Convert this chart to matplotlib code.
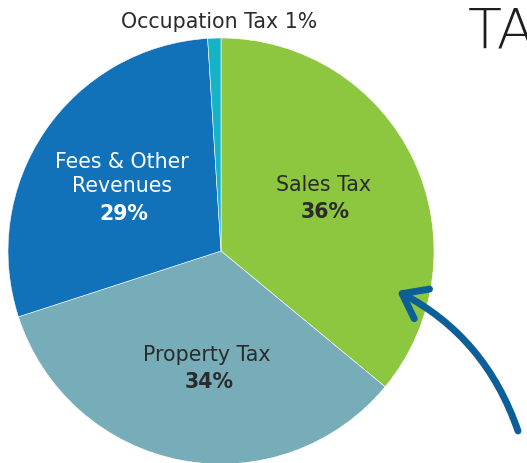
import matplotlib

matplotlib.use("Agg")
import matplotlib.pyplot as plt
from matplotlib.patches import FancyArrowPatch

plt.rcParams["font.family"] = ["DejaVu Sans"]

# revenue shares (%), clockwise from 12 o'clock
labels = ["Sales Tax", "Property Tax", "Fees & Other\nRevenues", "Occupation Tax"]
shares = [36, 34, 29, 1]
colors = ["#8dc63f", "#77adb9", "#1272b9", "#15b3c6"]

W, H = 527, 464
fig = plt.figure(figsize=(W / 100, H / 100), dpi=100)
ax = fig.add_axes([0, 0, 1, 1])

cx, cy, r = 221, H - 252, 213
ax.pie(
    shares,
    colors=colors,
    startangle=90,
    counterclock=False,
    center=(cx, cy),
    radius=r,
    frame=True,
    wedgeprops=dict(edgecolor="white", linewidth=0.4),
)
ax.set_xlim(0, W)
ax.set_ylim(0, H)
ax.set_aspect("equal")
ax.axis("off")

dark = "#2b2b2b"
fs = 14.8
# in-slice labels
ax.text(323, H - 185, labels[0], ha="center", va="center", fontsize=fs, color=dark)
ax.text(325, H - 212, f"{shares[0]}%", ha="center", va="center", fontsize=fs,
        color=dark, fontweight="bold")
ax.text(207, H - 355, labels[1], ha="center", va="center", fontsize=fs, color=dark)
ax.text(209, H - 382, f"{shares[1]}%", ha="center", va="center", fontsize=fs,
        color=dark, fontweight="bold")
ax.text(122, H - 174, labels[2], ha="center", va="center", fontsize=fs,
        color="white", linespacing=1.3)
ax.text(124, H - 214, f"{shares[2]}%", ha="center", va="center", fontsize=fs,
        color="white", fontweight="bold")
ax.text(219, H - 22, f"{labels[3]} {shares[3]}%", ha="center", va="center",
        fontsize=fs, color=dark)

# cut-off title at the right edge
ax.text(468, H - 33, "TAX", ha="left", va="center", fontsize=40, color="#1e1e1e",
        fontweight="light")

# hand-drawn style arrow pointing into the sales tax slice
arrow = FancyArrowPatch(
    (518, H - 432), (397, H - 292),
    connectionstyle="arc3,rad=0.2",
    arrowstyle="->,head_length=0.8,head_width=0.6",
    mutation_scale=20,
    color="#0d5f98", lw=5, capstyle="round", joinstyle="round",
    shrinkA=0, shrinkB=0,
)
ax.add_patch(arrow)

fig.savefig("out.png", dpi=100)
